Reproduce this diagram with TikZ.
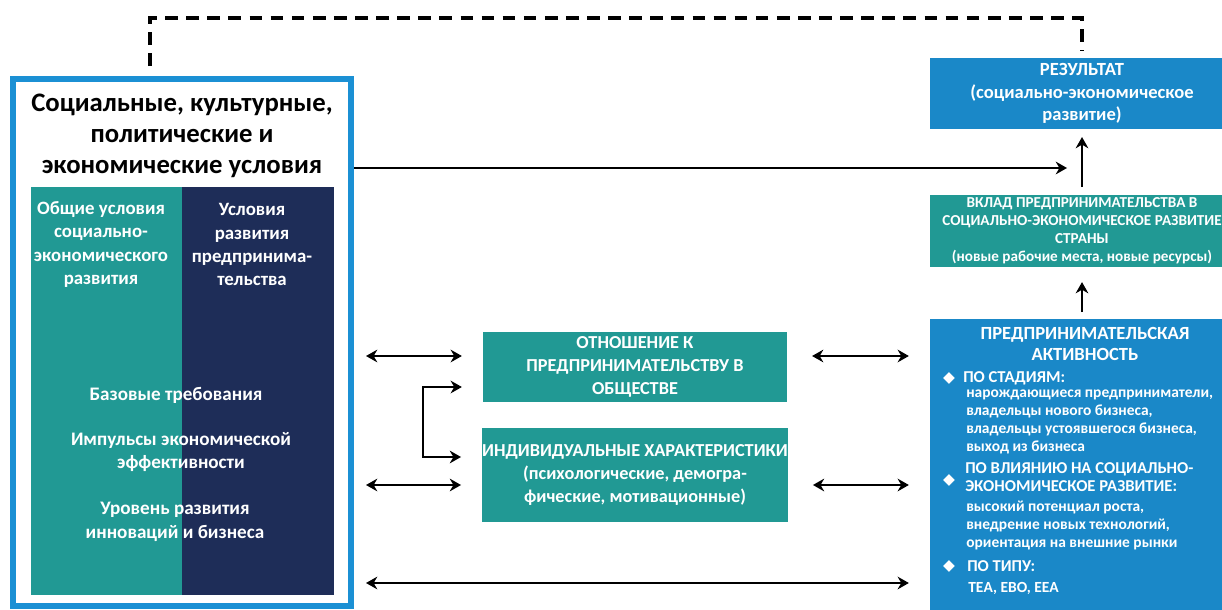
\documentclass[tikz,border=0pt]{standalone}
\usepackage{fontspec}
\setmainfont{Carlito}
\newfontfamily\symfont{DejaVu Sans}
\usetikzlibrary{positioning,arrows.meta}

\definecolor{teal1}{RGB}{33,153,148}
\definecolor{navy1}{RGB}{30,45,88}
\definecolor{blue1}{RGB}{26,136,200}
\definecolor{blue2}{RGB}{27,144,212}
\newcommand{\bul}{{\symfont\fontsize{11}{11}\selectfont ◆}}
\newcommand{\fs}[2]{\fontsize{#1}{#2}\selectfont\bfseries}

\tikzset{
  panel/.style={fill=#1, inner sep=0pt, outer sep=0pt},
  wt/.style={text=white, align=center, inner sep=0pt},
  wl/.style={text=white, align=left, inner sep=0pt, anchor=west},
  link/.style={line width=1.4pt},
  dashline/.style={line width=2.3pt, dash pattern=on 9pt off 6pt}
}

\begin{document}
\begin{tikzpicture}[x=0.025cm, y=-0.025cm, >={Stealth[length=8pt,width=9pt]}]

  \useasboundingbox (0,0) rectangle (1222,610);

  %% -- left block
  \node (lbox) [draw=blue2, line width=4.3pt, minimum width=8.45cm,
                minimum height=13.175cm, inner sep=0pt] at (182,342.5) {};
  \node (c1) [panel=teal1, minimum width=3.775cm, minimum height=10.2cm] at (106.5,391) {};
  \node (c2) [panel=navy1, minimum width=3.8cm, minimum height=10.2cm, right=0pt of c1] {};

  \node (tt) [align=center, inner sep=0pt, font=\fs{19}{22}] at (182,136)
        {Социальные, культурные,\\политические и\\экономические условия};
  \node (c1t) [wt, font=\fs{13.4}{16.4}] at (101,244.5)
        {Общие условия\\социально-\\экономического\\развития};
  \node (c2t) [wt, font=\fs{13.4}{16.4}] at (252,244.5)
        {Условия\\развития\\предпринима-\\тельства};
  \node (i1) [wt, font=\fs{13.6}{17}] at (176,395) {Базовые требования};
  \node (i2) [wt, font=\fs{13.6}{17}] at (181,452) {Импульсы экономической\\эффективности};
  \node (i3) [wt, font=\fs{13.6}{17}] at (175,521.5) {Уровень развития\\инноваций и бизнеса};

  %% -- middle
  \node (o1) [panel=teal1, wt, font=\fs{13}{16.4}, minimum width=7.6cm,
              minimum height=1.75cm] at (635,367)
        {ОТНОШЕНИЕ К\\ПРЕДПРИНИМАТЕЛЬСТВУ В\\ОБЩЕСТВЕ};
  \node (o2) [panel=teal1, wt, font=\fs{13}{16.4}, minimum width=7.6cm,
              minimum height=2.35cm, below=0.65cm of o1]
        {ИНДИВИДУАЛЬНЫЕ ХАРАКТЕРИСТИКИ\\(психологические, демогра-\\фические, мотивационные)};

  %% -- right
  \node (res) [panel=blue1, wt, font=\fs{13.2}{16}, minimum width=7.6cm,
               minimum height=1.775cm] at (1082,93.5)
        {РЕЗУЛЬТАТ\\(социально-экономическое\\развитие)};
  \node (vkl) [panel=teal1, wt, font=\fs{10.8}{12.8}, minimum width=7.6cm,
               minimum height=1.8cm, below=1.65cm of res]
        {ВКЛАД ПРЕДПРИНИМАТЕЛЬСТВА В\\СОЦИАЛЬНО-ЭКОНОМИЧЕСКОЕ РАЗВИТИЕ\\СТРАНЫ\\(новые рабочие места, новые ресурсы)};
  \node (akt) [panel=blue1, minimum width=7.6cm, minimum height=7.5cm,
               below=1.3cm of vkl] {};

  \node (ah) [wt, font=\fs{13.2}{15.6}] at (1085,344) {ПРЕДПРИНИМАТЕЛЬСКАЯ\\АКТИВНОСТЬ};
  \node (b1) [text=white, inner sep=0pt] at (949,378) {\bul};
  \node (s1) [wl, font=\fs{11.8}{13}] at (963,378) {ПО СТАДИЯМ:};
  \node (s1l) [wl, font=\fs{11}{12.8}] at (966,422)
        {нарождающиеся предприниматели,\\владельцы нового бизнеса,\\владельцы устоявшегося бизнеса,\\выход из бизнеса};
  \node (b2) [text=white, inner sep=0pt] at (949,480) {\bul};
  \node (s2) [wl, font=\fs{11.8}{13}] at (965,477) {ПО ВЛИЯНИЮ НА СОЦИАЛЬНО-\\ЭКОНОМИЧЕСКОЕ РАЗВИТИЕ:};
  \node (s2l) [wl, font=\fs{11}{12.8}] at (966,525)
        {высокий потенциал роста,\\внедрение новых технологий,\\ориентация на внешние рынки};
  \node (b3) [text=white, inner sep=0pt] at (949,566) {\bul};
  \node (s3) [wl, font=\fs{11.8}{13}] at (967,566) {ПО ТИПУ:};
  \node (s3l) [wl, font=\fs{11}{12.8}] at (968,588) {ТЕА, ЕВО, ЕЕА};

  %% -- edges
  \coordinate (t1) at (1067,168);
  \coordinate (r1) at (0,356);
  \coordinate (r2) at (0,485);
  \coordinate (r3) at (0,583);
  \coordinate (k1) at (423,387);
  \coordinate (k2) at (423,457);
  \coordinate (d1) at (150,18);
  \coordinate (d2) at (1082,18);

  %% feedback
  \draw[dashline, shorten <=7pt, shorten >=5pt] (lbox.north -| d1) -- (d1) -- (d2) -- (res.north);
  %% conditions to result
  \draw[->, link] (lbox.east |- t1) -- (t1);
  \draw[->, link, shorten <=5.7pt, shorten >=5.7pt] (vkl.north) -- (res.south);
  \draw[->, link, shorten <=5pt, shorten >=10.7pt] (akt.north) -- (vkl.south);
  %% left side
  \draw[<->, link, shorten <=8.5pt, shorten >=15pt] (lbox.east |- r1) -- (o1.west |- r1);
  \draw[<->, link, shorten <=8.5pt, shorten >=15pt] (lbox.east |- r2) -- (o2.west |- r2);
  \draw[<->, link, shorten <=15pt, shorten >=15pt] (o1.west |- k1) -- (k1) -- (k2) -- (o2.west |- k2);
  %% right side
  \draw[<->, link, shorten <=17.8pt, shorten >=15pt] (o1.east |- r1) -- (akt.west |- r1);
  \draw[<->, link, shorten <=17.8pt, shorten >=15pt] (o2.east |- r2) -- (akt.west |- r2);
  %% bottom
  \draw[<->, link, shorten <=8.5pt, shorten >=15pt] (lbox.east |- r3) -- (akt.west |- r3);

\end{tikzpicture}
\end{document}
